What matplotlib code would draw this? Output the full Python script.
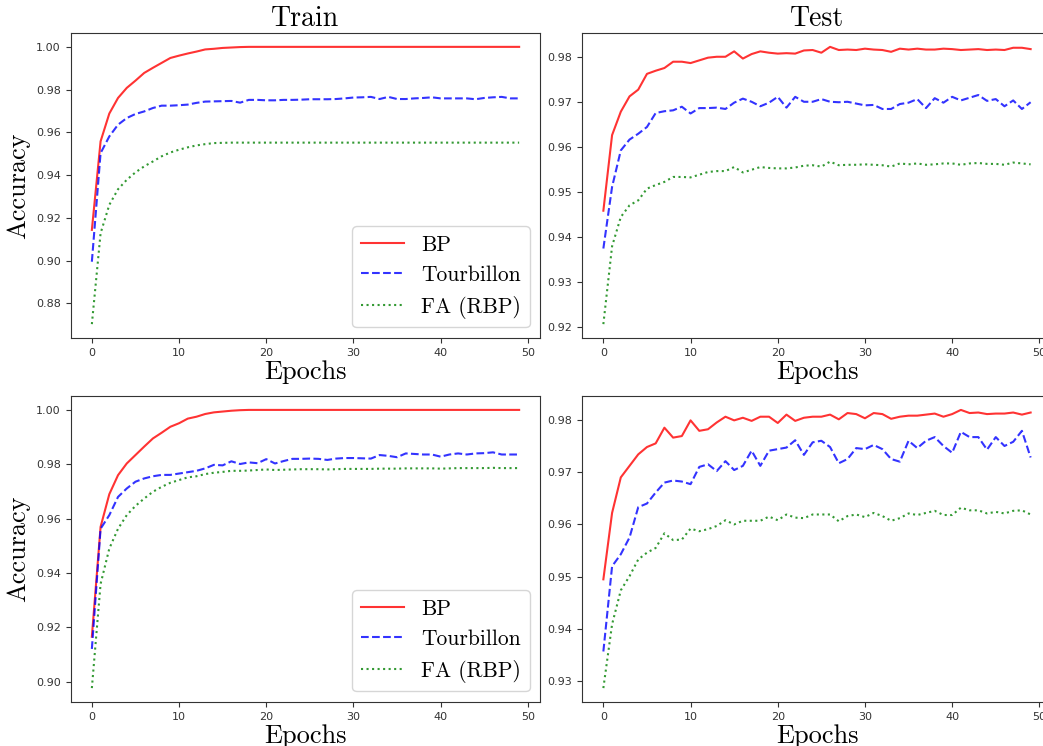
import matplotlib
matplotlib.use("Agg")
import matplotlib.pyplot as plt
from matplotlib.ticker import MultipleLocator

# epochs on the x axis
epochs = list(range(50))

# top row (first run)
train1_bp = [0.9144, 0.9558, 0.9688, 0.9761, 0.9808, 0.9842, 0.9878, 0.9902, 0.9925, 0.9948,
             0.9959, 0.9969, 0.9978, 0.9988, 0.9991, 0.9995, 0.9997, 0.9999, 1.0000, 1.0000,
             1.0000, 1.0000, 1.0000, 1.0000, 1.0000, 1.0000, 1.0000, 1.0000, 1.0000, 1.0000,
             1.0000, 1.0000, 1.0000, 1.0000, 1.0000, 1.0000, 1.0000, 1.0000, 1.0000, 1.0000,
             1.0000, 1.0000, 1.0000, 1.0000, 1.0000, 1.0000, 1.0000, 1.0000, 1.0000, 1.0000]
train1_tb = [0.8995, 0.9503, 0.9581, 0.9636, 0.9667, 0.9686, 0.9698, 0.9714, 0.9725, 0.9725,
             0.9727, 0.9730, 0.9738, 0.9744, 0.9745, 0.9746, 0.9747, 0.9739, 0.9752, 0.9752,
             0.9750, 0.9750, 0.9752, 0.9752, 0.9753, 0.9755, 0.9755, 0.9755, 0.9756, 0.9759,
             0.9763, 0.9764, 0.9766, 0.9756, 0.9766, 0.9756, 0.9756, 0.9759, 0.9761, 0.9764,
             0.9759, 0.9759, 0.9759, 0.9759, 0.9755, 0.9761, 0.9764, 0.9766, 0.9759, 0.9759]
train1_fa = [0.8703, 0.9128, 0.9261, 0.9334, 0.9378, 0.9413, 0.9441, 0.9464, 0.9488, 0.9506,
             0.9519, 0.9530, 0.9539, 0.9545, 0.9550, 0.9551, 0.9552, 0.9552, 0.9552, 0.9552,
             0.9552, 0.9552, 0.9552, 0.9552, 0.9552, 0.9552, 0.9552, 0.9552, 0.9552, 0.9552,
             0.9552, 0.9552, 0.9552, 0.9552, 0.9552, 0.9552, 0.9552, 0.9552, 0.9552, 0.9552,
             0.9552, 0.9552, 0.9552, 0.9552, 0.9552, 0.9552, 0.9552, 0.9552, 0.9552, 0.9552]

test1_bp = [0.9459, 0.9627, 0.9679, 0.9713, 0.9728, 0.9763, 0.9770, 0.9776, 0.9790, 0.9790,
            0.9787, 0.9793, 0.9799, 0.9801, 0.9801, 0.9813, 0.9797, 0.9807, 0.9813, 0.9810,
            0.9808, 0.9809, 0.9808, 0.9815, 0.9816, 0.9810, 0.9823, 0.9816, 0.9817, 0.9816,
            0.9819, 0.9817, 0.9816, 0.9812, 0.9819, 0.9817, 0.9819, 0.9817, 0.9817, 0.9819,
            0.9818, 0.9816, 0.9817, 0.9818, 0.9816, 0.9817, 0.9816, 0.9821, 0.9821, 0.9818]
test1_tb = [0.9375, 0.9512, 0.9593, 0.9617, 0.9630, 0.9645, 0.9676, 0.9680, 0.9682, 0.9690,
            0.9675, 0.9687, 0.9687, 0.9688, 0.9685, 0.9699, 0.9708, 0.9701, 0.9691, 0.9699,
            0.9712, 0.9688, 0.9712, 0.9701, 0.9701, 0.9707, 0.9701, 0.9700, 0.9701, 0.9697,
            0.9693, 0.9694, 0.9685, 0.9685, 0.9696, 0.9699, 0.9707, 0.9687, 0.9709, 0.9699,
            0.9712, 0.9704, 0.9710, 0.9716, 0.9703, 0.9707, 0.9691, 0.9704, 0.9685, 0.9700]
test1_fa = [0.9207, 0.9380, 0.9445, 0.9471, 0.9482, 0.9508, 0.9516, 0.9523, 0.9534, 0.9534,
            0.9533, 0.9539, 0.9545, 0.9547, 0.9547, 0.9556, 0.9544, 0.9550, 0.9556, 0.9554,
            0.9553, 0.9553, 0.9555, 0.9559, 0.9560, 0.9557, 0.9568, 0.9560, 0.9561, 0.9561,
            0.9562, 0.9561, 0.9560, 0.9557, 0.9564, 0.9562, 0.9564, 0.9561, 0.9562, 0.9564,
            0.9564, 0.9561, 0.9564, 0.9565, 0.9563, 0.9563, 0.9561, 0.9566, 0.9564, 0.9562]

# bottom row (second run)
train2_bp = [0.9166, 0.9570, 0.9690, 0.9760, 0.9803, 0.9834, 0.9865, 0.9895, 0.9916, 0.9938,
             0.9951, 0.9968, 0.9975, 0.9985, 0.9991, 0.9994, 0.9997, 0.9999, 1.0000, 1.0000,
             1.0000, 1.0000, 1.0000, 1.0000, 1.0000, 1.0000, 1.0000, 1.0000, 1.0000, 1.0000,
             1.0000, 1.0000, 1.0000, 1.0000, 1.0000, 1.0000, 1.0000, 1.0000, 1.0000, 1.0000,
             1.0000, 1.0000, 1.0000, 1.0000, 1.0000, 1.0000, 1.0000, 1.0000, 1.0000, 1.0000]
train2_tb = [0.9121, 0.9563, 0.9613, 0.9680, 0.9711, 0.9736, 0.9748, 0.9756, 0.9761, 0.9761,
             0.9766, 0.9771, 0.9776, 0.9785, 0.9798, 0.9796, 0.9811, 0.9801, 0.9807, 0.9804,
             0.9819, 0.9803, 0.9812, 0.9820, 0.9820, 0.9821, 0.9820, 0.9816, 0.9821, 0.9823,
             0.9823, 0.9822, 0.9821, 0.9834, 0.9831, 0.9826, 0.9840, 0.9838, 0.9836, 0.9836,
             0.9828, 0.9836, 0.9840, 0.9836, 0.9840, 0.9841, 0.9844, 0.9836, 0.9836, 0.9836]
train2_fa = [0.8977, 0.9360, 0.9490, 0.9563, 0.9613, 0.9647, 0.9674, 0.9699, 0.9717, 0.9732,
             0.9742, 0.9752, 0.9756, 0.9764, 0.9769, 0.9772, 0.9776, 0.9776, 0.9777, 0.9779,
             0.9781, 0.9779, 0.9780, 0.9781, 0.9782, 0.9782, 0.9782, 0.9781, 0.9782, 0.9783,
             0.9783, 0.9783, 0.9783, 0.9784, 0.9784, 0.9784, 0.9785, 0.9785, 0.9785, 0.9785,
             0.9784, 0.9785, 0.9786, 0.9786, 0.9786, 0.9786, 0.9787, 0.9786, 0.9786, 0.9786]

test2_bp = [0.9495, 0.9622, 0.9690, 0.9712, 0.9734, 0.9748, 0.9755, 0.9785, 0.9766, 0.9769,
            0.9799, 0.9779, 0.9782, 0.9795, 0.9806, 0.9799, 0.9804, 0.9798, 0.9806, 0.9806,
            0.9794, 0.9810, 0.9798, 0.9804, 0.9806, 0.9806, 0.9810, 0.9801, 0.9813, 0.9811,
            0.9803, 0.9813, 0.9811, 0.9802, 0.9806, 0.9808, 0.9808, 0.9810, 0.9812, 0.9806,
            0.9811, 0.9819, 0.9813, 0.9814, 0.9811, 0.9812, 0.9812, 0.9814, 0.9810, 0.9814]
test2_tb = [0.9357, 0.9520, 0.9543, 0.9575, 0.9633, 0.9640, 0.9661, 0.9680, 0.9684, 0.9682,
            0.9677, 0.9710, 0.9715, 0.9702, 0.9721, 0.9704, 0.9712, 0.9741, 0.9712, 0.9741,
            0.9744, 0.9747, 0.9761, 0.9733, 0.9757, 0.9760, 0.9748, 0.9717, 0.9725, 0.9746,
            0.9744, 0.9752, 0.9744, 0.9725, 0.9720, 0.9760, 0.9746, 0.9760, 0.9767, 0.9750,
            0.9737, 0.9777, 0.9767, 0.9767, 0.9743, 0.9767, 0.9750, 0.9758, 0.9779, 0.9728]
test2_fa = [0.9287, 0.9409, 0.9474, 0.9501, 0.9533, 0.9546, 0.9555, 0.9583, 0.9570, 0.9571,
            0.9592, 0.9587, 0.9591, 0.9597, 0.9608, 0.9600, 0.9607, 0.9607, 0.9607, 0.9615,
            0.9608, 0.9619, 0.9613, 0.9612, 0.9619, 0.9619, 0.9619, 0.9606, 0.9616, 0.9619,
            0.9614, 0.9622, 0.9616, 0.9607, 0.9612, 0.9621, 0.9618, 0.9622, 0.9626, 0.9618,
            0.9618, 0.9632, 0.9627, 0.9627, 0.9621, 0.9624, 0.9621, 0.9626, 0.9627, 0.9619]

labels = ["BP", "Tourbillon", "FA (RBP)"]

serif = "cmr10"
fig = plt.figure(figsize=(10.43, 7.46), dpi=100)

W, H = 1043.0, 746.0
# axes boxes in pixels: left, top, right, bottom (right column runs past the edge)
boxes = [(70.5, 33, 540.5, 338), (582, 33, 1052, 338),
         (70.5, 396, 540.5, 702), (582, 396, 1052, 702)]
panels = [(train1_bp, train1_tb, train1_fa, 0.02),
          (test1_bp, test1_tb, test1_fa, 0.01),
          (train2_bp, train2_tb, train2_fa, 0.02),
          (test2_bp, test2_tb, test2_fa, 0.01)]

for i, (box, (bp, tb, fa, step)) in enumerate(zip(boxes, panels)):
    l, t, r, b = box
    ax = fig.add_axes([l / W, 1 - b / H, (r - l) / W, (b - t) / H])
    ax.plot(epochs, bp, color="r", alpha=0.8, lw=1.5, label=labels[0])
    ax.plot(epochs, tb, color="b", alpha=0.8, lw=1.5, ls="--", label=labels[1])
    ax.plot(epochs, fa, color="g", alpha=0.8, lw=1.5, ls=":", label=labels[2])
    ax.xaxis.set_major_locator(MultipleLocator(10))
    ax.yaxis.set_major_locator(MultipleLocator(step))
    ax.yaxis.set_major_formatter(matplotlib.ticker.FormatStrFormatter("%.2f"))
    ax.tick_params(labelsize=8, colors="#333333", width=0.8)
    for s in ax.spines.values():
        s.set_color("#333333")
    ax.set_xlabel("Epochs", fontsize=19, family=serif, labelpad=2)
    if i % 2 == 0:
        ax.set_ylabel("Accuracy", fontsize=19, family=serif, labelpad=4)
        ax.legend(loc="lower right", prop={"family": serif, "size": 15.5})
    if i == 0:
        ax.set_title("Train", fontsize=20, family=serif, pad=5)
    if i == 1:
        ax.set_title("Test", fontsize=20, family=serif, pad=5)

fig.savefig("out.png", dpi=100)
